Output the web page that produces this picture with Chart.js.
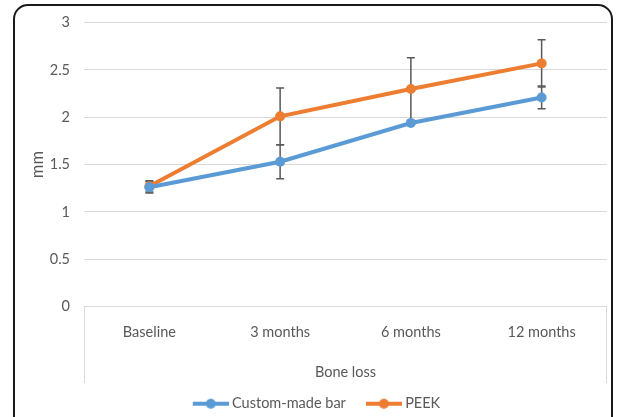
<!DOCTYPE html>
<html>
<head>
<meta charset="utf-8">
<script src="https://cdn.jsdelivr.net/npm/chart.js@4/dist/chart.umd.min.js"></script>
<style>
html,body{margin:0;padding:0;background:#fff;}
#wrap{width:618px;height:417px;position:relative;}
</style>
</head>
<body>
<div id="wrap"><canvas id="c" width="618" height="417"></canvas></div>
<script>
const categories = ['Baseline', '3 months', '6 months', '12 months'];
const customValues = [1.26, 1.53, 1.94, 2.21];
const peekValues = [1.27, 2.01, 2.30, 2.57];
const customErrors = [0.06, 0.18, 0, 0.12];
const peekErrors = [0.06, 0.30, 0.33, 0.25];
const yTicks = [0, 0.5, 1, 1.5, 2, 2.5, 3];

const BLUE = '#5B9BD5', ORANGE = '#ED7D31', GRID = '#d9d9d9', TXT = '#595959';
const FONT = 'Lato, "Open Sans", sans-serif';

function legendMarker(color){
  const cv = document.createElement('canvas');
  cv.width = 50; cv.height = 12;
  const g = cv.getContext('2d');
  g.strokeStyle = color; g.lineWidth = 4;
  g.beginPath(); g.moveTo(14,6); g.lineTo(50,6); g.stroke();
  g.fillStyle = color; g.beginPath(); g.arc(32,6,5,0,Math.PI*2); g.fill();
  return cv;
}

const errorBars = {
  id: 'errorBars',
  beforeDatasetsDraw(chart){
    const {ctx, scales:{x, y}} = chart;
    const sets = [[customValues, customErrors], [peekValues, peekErrors]];
    ctx.save();
    ctx.strokeStyle = '#595959'; ctx.lineWidth = 1.5;
    sets.forEach(([vals, errs]) => {
      vals.forEach((v, i) => {
        const e = errs[i]; if (!e) return;
        const px = x.getPixelForValue(i);
        const top = y.getPixelForValue(v + e), bot = y.getPixelForValue(v - e);
        ctx.beginPath();
        ctx.moveTo(px, top); ctx.lineTo(px, bot);
        ctx.moveTo(px-4, top); ctx.lineTo(px+4, top);
        ctx.moveTo(px-4, bot); ctx.lineTo(px+4, bot);
        ctx.stroke();
      });
    });
    ctx.restore();
  }
};

const frame = {
  id: 'frame',
  beforeDraw(chart){
    const {ctx, chartArea:a} = chart;
    ctx.save();
    ctx.fillStyle = '#fff'; ctx.fillRect(0,0,chart.width,chart.height);
    ctx.strokeStyle = GRID; ctx.lineWidth = 1;
    ctx.beginPath();
    ctx.moveTo(Math.round(a.left)+0.5, a.bottom); ctx.lineTo(Math.round(a.left)+0.5, 383);
    ctx.moveTo(Math.round(a.right)-0.5, a.bottom); ctx.lineTo(Math.round(a.right)-0.5, 383);
    ctx.stroke();
    ctx.restore();
  },
  afterDraw(chart){
    const ctx = chart.ctx;
    ctx.save();
    ctx.strokeStyle = '#1a1a1a'; ctx.lineWidth = 2;
    ctx.beginPath();
    ctx.roundRect(14, 5, 598, 440, 14);
    ctx.stroke();
    ctx.restore();
  }
};

new Chart(document.getElementById('c'), {
  type: 'line',
  data: {
    labels: categories,
    datasets: [
      {label: 'Custom-made bar', data: customValues, borderColor: BLUE, backgroundColor: BLUE,
       borderWidth: 4, pointRadius: 5, pointHoverRadius: 5, pointStyle: 'circle', pointBorderWidth: 0,
       pointBackgroundColor: BLUE},
      {label: 'PEEK', data: peekValues, borderColor: ORANGE, backgroundColor: ORANGE,
       borderWidth: 4, pointRadius: 5, pointHoverRadius: 5, pointStyle: 'circle', pointBorderWidth: 0,
       pointBackgroundColor: ORANGE}
    ]
  },
  options: {
    responsive: false,
    animation: false,
    layout: {padding: {top: 13, right: 11, left: 16, bottom: -4}},
    plugins: {
      tooltip: {enabled: false},
      legend: {
        position: 'bottom',
        labels: {
          usePointStyle: true,
          pointStyleWidth: 42,
          font: {family: FONT, size: 14.5},
          color: TXT,
          padding: 10,
          generateLabels(chart){
            return chart.data.datasets.map((d, i) => ({
              text: d.label, pointStyle: legendMarker(d.borderColor),
              fillStyle: d.borderColor, strokeStyle: d.borderColor, lineWidth: 0,
              datasetIndex: i, hidden: false, fontColor: TXT
            }));
          }
        }
      }
    },
    scales: {
      x: {
        offset: true,
        grid: {display: false, drawTicks: false},
        border: {display: false},
        ticks: {font: {family: FONT, size: 14.5}, color: TXT, padding: 17, maxRotation: 0},
        title: {display: true, text: 'Bone loss', font: {family: FONT, size: 14.5}, color: TXT, padding: {top: 0, bottom: 5}},
        afterFit(s){ s.height = 80; }
      },
      y: {
        min: 0, max: 3,
        afterBuildTicks(s){ s.ticks = yTicks.map(v => ({value: v})); },
        grid: {color: GRID, drawTicks: false, lineWidth: 1},
        border: {display: false},
        ticks: {font: {family: FONT, size: 14.5}, color: TXT, padding: 14, callback: v => String(v)},
        title: {display: true, text: 'mm', font: {family: FONT, size: 16.5}, color: TXT, padding: {top: 12, bottom: 0}},
        afterFit(s){ s.width = 68; }
      }
    }
  },
  plugins: [errorBars, frame]
});
</script>
</body>
</html>
